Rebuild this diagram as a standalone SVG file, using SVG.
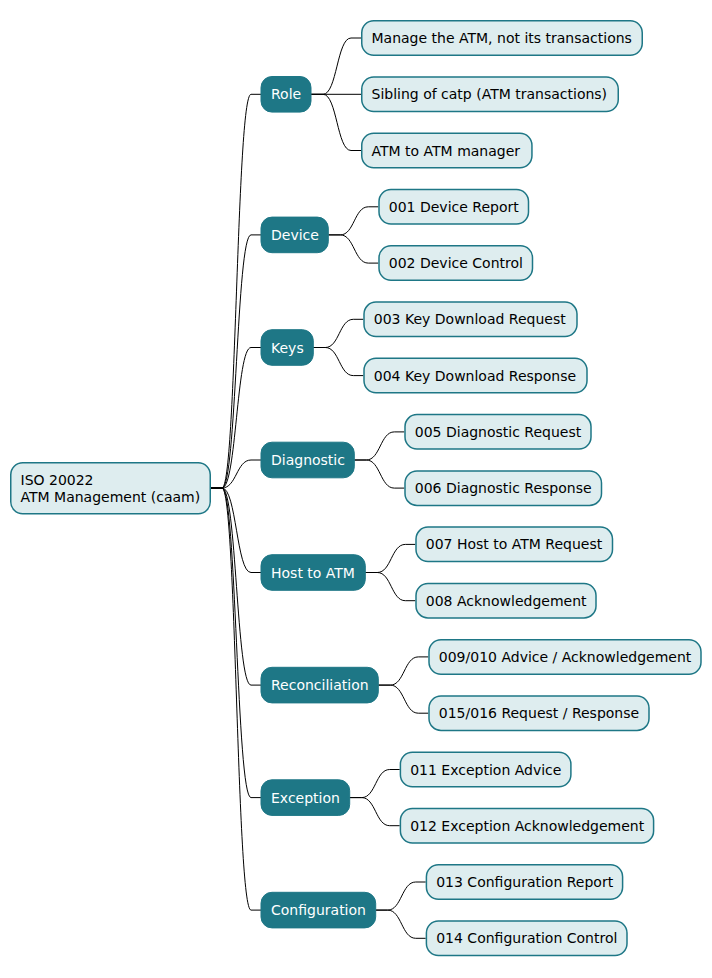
<svg xmlns="http://www.w3.org/2000/svg" width="712" height="978" viewBox="0 0 712 978">
<style>
text{font-family:"DejaVu Sans",Verdana,sans-serif;font-size:14px}
.l1 rect{fill:#1E7786;stroke:#1E7786;stroke-width:1}
.l1 text{fill:#FFFFFF}
.lf rect{fill:#DEEDEF;stroke:#1E7786;stroke-width:1.5}
.lf text{fill:#000000}
#links path{fill:none;stroke:#000000;stroke-width:1}
</style>
<rect width="712" height="978" fill="#FFFFFF"/>
<g id="links">
<path d="M210.5 488 H222 C236.5 488 236.5 94.3 251 94.3 H261"/>
<path d="M210.5 488 H222 C236.5 488 236.5 234.9 251 234.9 H261"/>
<path d="M210.5 488 H222 C236.5 488 236.5 347.5 251 347.5 H261"/>
<path d="M210.5 488 H222 C236.5 488 236.5 460 251 460 H261"/>
<path d="M210.5 488 H222 C236.5 488 236.5 572.5 251 572.5 H261"/>
<path d="M210.5 488 H222 C236.5 488 236.5 685.1 251 685.1 H261"/>
<path d="M210.5 488 H222 C236.5 488 236.5 797.6 251 797.6 H261"/>
<path d="M210.5 488 H222 C236.5 488 236.5 910.1 251 910.1 H261"/>
<path d="M311 94.3 H323 C337 94.3 337 38 351 38 H361"/>
<path d="M311 94.3 H361"/>
<path d="M311 94.3 H323 C337 94.3 337 150.5 351 150.5 H361"/>
<path d="M328.3 234.9 H340.3 C354.3 234.9 354.3 206.8 368.3 206.8 H378.3"/>
<path d="M328.3 234.9 H340.3 C354.3 234.9 354.3 263.1 368.3 263.1 H378.3"/>
<path d="M313.3 347.5 H325.3 C339.3 347.5 339.3 319.3 353.3 319.3 H363.3"/>
<path d="M313.3 347.5 H325.3 C339.3 347.5 339.3 375.6 353.3 375.6 H363.3"/>
<path d="M354.3 460 H366.3 C380.3 460 380.3 431.9 394.3 431.9 H404.3"/>
<path d="M354.3 460 H366.3 C380.3 460 380.3 488.1 394.3 488.1 H404.3"/>
<path d="M365.3 572.5 H377.3 C391.3 572.5 391.3 544.4 405.3 544.4 H415.3"/>
<path d="M365.3 572.5 H377.3 C391.3 572.5 391.3 600.7 405.3 600.7 H415.3"/>
<path d="M378.3 685.1 H390.3 C404.3 685.1 404.3 656.9 418.3 656.9 H428.3"/>
<path d="M378.3 685.1 H390.3 C404.3 685.1 404.3 713.2 418.3 713.2 H428.3"/>
<path d="M349.7 797.6 H361.7 C375.7 797.6 375.7 769.5 389.7 769.5 H399.7"/>
<path d="M349.7 797.6 H361.7 C375.7 797.6 375.7 825.7 389.7 825.7 H399.7"/>
<path d="M375.7 910.1 H387.7 C401.7 910.1 401.7 882 415.7 882 H425.7"/>
<path d="M375.7 910.1 H387.7 C401.7 910.1 401.7 938.3 415.7 938.3 H425.7"/>
</g>
<g id="root" class="lf"><rect x="10.75" y="462.75" width="199.5" height="51" rx="12"/><text x="20.5" y="485">ISO 20022</text><text x="20.5" y="502">ATM Management (caam)</text></g>
<g id="role" class="l1"><rect x="261" y="76.5" width="50" height="35.6" rx="11"/><text x="271" y="99.3">Role</text></g>
<g id="device" class="l1"><rect x="261" y="217.1" width="67.3" height="35.6" rx="11"/><text x="271" y="239.9">Device</text></g>
<g id="keys" class="l1"><rect x="261" y="329.7" width="52.3" height="35.6" rx="11"/><text x="271" y="352.5">Keys</text></g>
<g id="diagnostic" class="l1"><rect x="261" y="442.2" width="93.3" height="35.6" rx="11"/><text x="271" y="465">Diagnostic</text></g>
<g id="host" class="l1"><rect x="261" y="554.7" width="104.3" height="35.6" rx="11"/><text x="271" y="577.5">Host to ATM</text></g>
<g id="reconciliation" class="l1"><rect x="261" y="667.3" width="117.3" height="35.6" rx="11"/><text x="271" y="690.1">Reconciliation</text></g>
<g id="exception" class="l1"><rect x="261" y="779.8" width="88.7" height="35.6" rx="11"/><text x="271" y="802.6">Exception</text></g>
<g id="configuration" class="l1"><rect x="261" y="892.3" width="114.7" height="35.6" rx="11"/><text x="271" y="915.1">Configuration</text></g>
<g id="leaf-role-1" class="lf"><rect x="361.75" y="20.75" width="280.5" height="34.5" rx="12"/><text x="371.5" y="43">Manage the ATM, not its transactions</text></g>
<g id="leaf-role-2" class="lf"><rect x="361.75" y="77" width="256.5" height="34.5" rx="12"/><text x="371.5" y="99.3">Sibling of catp (ATM transactions)</text></g>
<g id="leaf-role-3" class="lf"><rect x="361.75" y="133.3" width="170.2" height="34.5" rx="12"/><text x="371.5" y="155.5">ATM to ATM manager</text></g>
<g id="leaf-001" class="lf"><rect x="379" y="189.5" width="149.5" height="34.5" rx="12"/><text x="388.8" y="211.8">001 Device Report</text></g>
<g id="leaf-002" class="lf"><rect x="379" y="245.8" width="153.5" height="34.5" rx="12"/><text x="388.8" y="268.1">002 Device Control</text></g>
<g id="leaf-003" class="lf"><rect x="364" y="302.1" width="213" height="34.5" rx="12"/><text x="373.8" y="324.3">003 Key Download Request</text></g>
<g id="leaf-004" class="lf"><rect x="364" y="358.3" width="223" height="34.5" rx="12"/><text x="373.8" y="380.6">004 Key Download Response</text></g>
<g id="leaf-005" class="lf"><rect x="405" y="414.6" width="186" height="34.5" rx="12"/><text x="414.8" y="436.9">005 Diagnostic Request</text></g>
<g id="leaf-006" class="lf"><rect x="405" y="470.9" width="196.5" height="34.5" rx="12"/><text x="414.8" y="493.1">006 Diagnostic Response</text></g>
<g id="leaf-007" class="lf"><rect x="416" y="527.1" width="196.5" height="34.5" rx="12"/><text x="425.8" y="549.4">007 Host to ATM Request</text></g>
<g id="leaf-008" class="lf"><rect x="416" y="583.4" width="180" height="34.5" rx="12"/><text x="425.8" y="605.7">008 Acknowledgement</text></g>
<g id="leaf-009" class="lf"><rect x="429" y="639.7" width="272" height="34.5" rx="12"/><text x="438.8" y="661.9">009/010 Advice / Acknowledgement</text></g>
<g id="leaf-015" class="lf"><rect x="429" y="695.9" width="220" height="34.5" rx="12"/><text x="438.8" y="718.2">015/016 Request / Response</text></g>
<g id="leaf-011" class="lf"><rect x="400.4" y="752.2" width="170.5" height="34.5" rx="12"/><text x="410.2" y="774.5">011 Exception Advice</text></g>
<g id="leaf-012" class="lf"><rect x="400.4" y="808.5" width="253.2" height="34.5" rx="12"/><text x="410.2" y="830.7">012 Exception Acknowledgement</text></g>
<g id="leaf-013" class="lf"><rect x="426.4" y="864.7" width="196.2" height="34.5" rx="12"/><text x="436.2" y="887">013 Configuration Report</text></g>
<g id="leaf-014" class="lf"><rect x="426.4" y="921" width="200.6" height="34.5" rx="12"/><text x="436.2" y="943.3">014 Configuration Control</text></g>
</svg>
